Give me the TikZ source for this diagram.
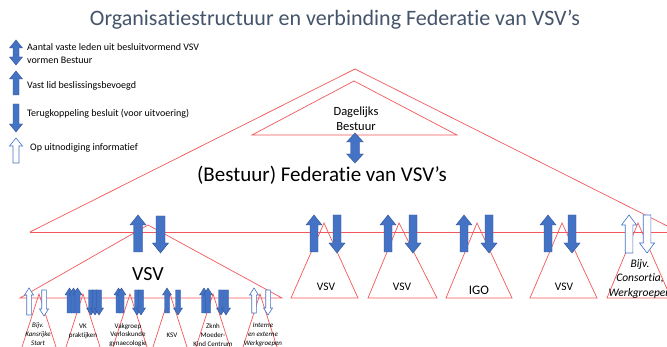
\documentclass[tikz,border=0pt]{standalone}
\usepackage{fontspec}
\setmainfont{Carlito}[Ligatures=NoCommon]
\definecolor{tblue}{HTML}{44546A}
\definecolor{ablue}{HTML}{4472C4}
\definecolor{aedge}{HTML}{2F5597}
\definecolor{lred}{HTML}{F2585A}
\tikzset{
  redline/.style={draw=lred, line width=0.7pt},
  fillarr/.style={fill=ablue, draw=aedge, line width=0.4pt},
  openarr/.style={fill=white, draw=ablue, line width=0.6pt},
  legendtxt/.style={anchor=west, inner sep=0pt, font=\fontsize{10}{12}\selectfont},
  smalltxt/.style={inner sep=0pt, align=center, font=\fontsize{7}{8.8}\selectfont},
  smallit/.style={smalltxt, font=\fontsize{7}{8.8}\selectfont\itshape},
  midtxt/.style={inner sep=0pt, align=center, font=\fontsize{11.5}{14}\selectfont},
}
% style, x, ytop, ybot, bodyhalf, headhalf, headlen   (y grows downward)
\newcommand\UpArr[7]{\path[#1] ({#2-#5},#4) -- ({#2-#5},{#3+#7}) -- ({#2-#6},{#3+#7}) -- (#2,#3) -- ({#2+#6},{#3+#7}) -- ({#2+#5},{#3+#7}) -- ({#2+#5},#4) -- cycle;}
\newcommand\DnArr[7]{\path[#1] ({#2-#5},#3) -- ({#2-#5},{#4-#7}) -- ({#2-#6},{#4-#7}) -- (#2,#4) -- ({#2+#6},{#4-#7}) -- ({#2+#5},{#4-#7}) -- ({#2+#5},#3) -- cycle;}
\newcommand\DblArr[7]{\path[#1] ({#2-#5},{#4-#7}) -- ({#2-#5},{#3+#7}) -- ({#2-#6},{#3+#7}) -- (#2,#3) -- ({#2+#6},{#3+#7}) -- ({#2+#5},{#3+#7}) -- ({#2+#5},{#4-#7}) -- ({#2+#6},{#4-#7}) -- (#2,#4) -- ({#2-#6},{#4-#7}) -- cycle;}
\begin{document}
\begin{tikzpicture}[x=1pt,y=-1pt]
\useasboundingbox (0,0) rectangle (667,347);
\clip (0,0) rectangle (667,347);
\fill[white] (0,0) rectangle (667,347);

% title
\node[inner sep=0pt, text=tblue, font=\fontsize{22}{26}\selectfont] (title) at (335,20) {Organisatiestructuur en verbinding Federatie van VSV’s};

% legend
\DblArr{fillarr}{16}{40}{65}{3}{6.5}{8}
\node[legendtxt] (l1a) at (27,47) {Aantal vaste leden uit besluitvormend VSV};
\node[legendtxt] (l1b) at (27,60) {vormen Bestuur};
\UpArr{fillarr}{16}{71}{95}{3}{6.5}{8}
\node[legendtxt] (l2) at (27,86) {Vast lid beslissingsbevoegd};
\DnArr{fillarr}{16}{104}{132}{3}{6.5}{8}
\node[legendtxt] (l3) at (27,114) {Terugkoppeling besluit (voor uitvoering)};
\UpArr{openarr}{16}{138}{163}{3}{6.5}{8}
\node[legendtxt] (l4) at (30,148) {Op uitnodiging informatief};

% outer triangle and line
\draw[redline] (30,232) -- (355,69) -- (711,248);
\draw[redline] (30,232) -- (667,232);
% Dagelijks bestuur
\draw[redline] (252,135) -- (354,81) -- (457,135) -- cycle;
\node[inner sep=0pt, align=center, font=\fontsize{12.5}{15}\selectfont] (db) at (356,119) {Dagelijks\\Bestuur};
\DblArr{fillarr}{355}{133}{163}{4.5}{8.3}{9}
\node[inner sep=0pt, font=\fontsize{21}{24}\selectfont] (fed) at (322,175) {(Bestuur) Federatie van VSV’s};

% right triangles
\draw[redline] (291,298) -- (324,223) -- (358,298) -- cycle;
\draw[redline] (368,298) -- (399,223) -- (437,298) -- cycle;
\draw[redline] (446,298) -- (477,223) -- (512,298) -- cycle;
\draw[redline] (530,298) -- (562,223) -- (597,298) -- cycle;
\draw[redline] (607,298) -- (638,223) -- (671,298) -- cycle;
\node[midtxt] (v1) at (326,287) {VSV};
\node[midtxt] (v2) at (402,287) {VSV};
\node[midtxt, font=\fontsize{13}{15}\selectfont] (igo) at (479,290) {IGO};
\node[midtxt] (v4) at (564,287) {VSV};
\node[inner sep=0pt, align=center, font=\fontsize{11.5}{14.5}\selectfont\itshape] (cons) at (640,279) {Bijv.\\Consortia,\\Werkgroepen};

% right arrows
\UpArr{fillarr}{314}{215}{252}{4}{8}{10}
\DnArr{fillarr}{337}{215}{253}{4}{8}{10}
\UpArr{fillarr}{388}{215}{252}{4}{8}{10}
\DnArr{fillarr}{413}{215}{253}{4}{8}{10}
\UpArr{fillarr}{464}{215}{252}{4}{8}{10}
\DnArr{fillarr}{489}{215}{253}{4}{8}{10}
\UpArr{fillarr}{548}{215}{252}{4}{8}{10}
\DnArr{fillarr}{572}{215}{253}{4}{8}{10}
\UpArr{openarr}{629}{215}{253}{3.8}{7.5}{10}
\DnArr{openarr}{647}{215}{253}{3.8}{7.5}{10}

% left VSV triangle
\draw[redline] (20,298) -- (148,225) -- (282,298) -- cycle;
\UpArr{fillarr}{138}{215}{252}{4.5}{8}{10}
\DnArr{fillarr}{160.5}{216}{253}{4.5}{8}{10}
\node[inner sep=0pt, font=\fontsize{20}{24}\selectfont] (vsv) at (148,274) {VSV};

% small triangles
\foreach \c in {39,83,130,170,213,260}{
  \draw[redline] ({\c-17},347) -- (\c,294) -- ({\c+17},347);
}
% small arrows
\UpArr{openarr}{29}{288}{315}{2.3}{4.5}{7}
\DnArr{openarr}{44}{290}{316}{2.3}{4.5}{7}
\foreach \x in {69.5,73.5,77.5}{\UpArr{fillarr}{\x}{288}{313}{2.5}{4.5}{7}}
\foreach \x in {91,95,99}{\DnArr{fillarr}{\x}{290}{315}{2.5}{4.5}{7}}
\foreach \x in {118.5,121.5}{\UpArr{fillarr}{\x}{288}{313}{2.5}{4.5}{7}}
\foreach \x in {137,141}{\DnArr{fillarr}{\x}{290}{315}{2.5}{4.5}{7}}
\UpArr{fillarr}{167}{288}{313}{2.5}{4.5}{7}
\DnArr{fillarr}{178}{290}{315}{2.5}{4.5}{7}
\foreach \x in {204,208}{\UpArr{fillarr}{\x}{288}{313}{2.5}{4.5}{7}}
\foreach \x in {221,226}{\DnArr{fillarr}{\x}{290}{315}{2.5}{4.5}{7}}
\UpArr{openarr}{254}{288}{313}{2.3}{4.5}{7}
\DnArr{openarr}{268}{290}{315}{2.3}{4.5}{7}

% small labels
\node[smallit] (s1) at (38,334) {Bijv.\\Kansrijke\\Start};
\node[smalltxt] (s2) at (83,331) {VK\\praktijken};
\node[smalltxt] (s3) at (128,335) {Vakgroep\\Verloskunde\\gynaecologie};
\node[smalltxt] (s4) at (172,335) {KSV};
\node[smalltxt] (s5) at (213,335) {Zknh\\Moeder-\\Kind Centrum};
\node[smallit] (s6) at (263,335) {Interne\\en externe\\Werkgroepen};
\end{tikzpicture}
\end{document}
